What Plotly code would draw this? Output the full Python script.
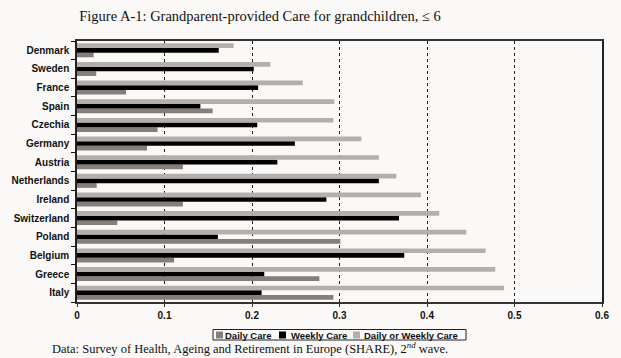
import plotly.graph_objects as go

countries = ["Denmark", "Sweden", "France", "Spain", "Czechia", "Germany", "Austria",
             "Netherlands", "Ireland", "Switzerland", "Poland", "Belgium", "Greece", "Italy"]
daily = [0.019, 0.022, 0.056, 0.155, 0.092, 0.080, 0.121, 0.0225, 0.121, 0.046, 0.301, 0.111, 0.277, 0.293]
weekly = [0.162, 0.202, 0.207, 0.141, 0.206, 0.249, 0.229, 0.345, 0.285, 0.368, 0.161, 0.374, 0.214, 0.211]
daily_or_weekly = [0.179, 0.221, 0.258, 0.294, 0.293, 0.325, 0.345, 0.365, 0.393, 0.414, 0.445, 0.467, 0.478, 0.488]
x_ticks = [0, 0.1, 0.2, 0.3, 0.4, 0.5, 0.6]
x_tick_labels = ["0", "0.1", "0.2", "0.3", "0.4", "0.5", "0.6"]
series_names = ["Daily Care", "Weekly Care", "Daily or Weekly Care"]
series_colors = ["#857e7a", "#000000", "#b5afab"]

W, H = 621, 358
ML, MR, MT, MB = 77, 19, 41, 56
plot_w = W - ML - MR
plot_h = H - MT - MB

def px_x(p):
    return (p - ML) / plot_w

def px_y(p):
    return (H - MB - p) / plot_h

# bottom-to-top order for the category axis
cats = countries[::-1]

fig = go.Figure()
for name, vals, col in zip(series_names, [daily, weekly, daily_or_weekly], series_colors):
    fig.add_trace(go.Bar(y=cats, x=vals[::-1], orientation="h", name=name,
                         marker=dict(color=col, line=dict(width=0)), showlegend=False))

bg = "#faf9f8"
font_sans = "Liberation Sans, Arial"
font_serif = "Liberation Serif, DejaVu Serif"

shapes = []
annotations = []
# custom compact legend (box + swatches + labels)
leg_x0, leg_x1, leg_y0, leg_y1 = 213, 466, 329.5, 340
shapes.append(dict(type="rect", xref="paper", yref="paper",
                   x0=px_x(leg_x0), x1=px_x(leg_x1), y0=px_y(leg_y1), y1=px_y(leg_y0),
                   line=dict(color="#222222", width=1), fillcolor=bg, layer="above"))
swatch_x = [216, 279, 353]
text_x = [222.5, 288.5, 362]
for name, col, sx, tx in zip(series_names, series_colors, swatch_x, text_x):
    shapes.append(dict(type="rect", xref="paper", yref="paper",
                       x0=px_x(sx), x1=px_x(sx + 7), y0=px_y(338.5), y1=px_y(331.5),
                       line=dict(width=0), fillcolor=col, layer="above"))
    annotations.append(dict(text="<b>" + name + "</b>", xref="paper", yref="paper",
                            x=px_x(tx), y=px_y(335), xanchor="left", yanchor="middle",
                            showarrow=False,
                            font=dict(family=font_sans, size=9.5, color="#111111")))

annotations.append(dict(text="Data: Survey of Health, Ageing and Retirement in Europe (SHARE), 2<sup><i>nd</i></sup> wave.",
                        xref="paper", yref="paper", x=px_x(250), y=px_y(348),
                        xanchor="center", yanchor="middle", showarrow=False,
                        font=dict(family=font_serif, size=12.5, color="#111111")))

fig.update_layout(
    width=W, height=H,
    margin=dict(l=ML, r=MR, t=MT, b=MB, autoexpand=False),
    paper_bgcolor=bg, plot_bgcolor=bg,
    barmode="group", bargap=0.25, bargroupgap=0,
    showlegend=False,
    title=dict(text="Figure A-1: Grandparent-provided Care for grandchildren, ≤ 6",
               x=260 / W, xanchor="center", y=1 - 16 / H, yanchor="middle",
               font=dict(family=font_serif, size=14.5, color="#111111")),
    xaxis=dict(range=[0, 0.6], tickvals=x_ticks, ticktext=x_tick_labels,
               showgrid=True, gridcolor="#222222", griddash="dot", gridwidth=1,
               showline=True, linecolor="#333333", linewidth=1.5, mirror=True,
               ticks="outside", ticklen=3, tickcolor="#333333",
               tickfont=dict(family=font_sans, size=10, color="#111111", weight="bold"),
               zeroline=False, fixedrange=True, automargin=False),
    yaxis=dict(range=[-0.5, 13.5], type="category", categoryorder="array", categoryarray=cats,
               showgrid=False, showline=True, linecolor="#222222", linewidth=1.5, mirror=True,
               ticks="outside", tickson="boundaries", ticklen=4, tickcolor="#111111",
               tickfont=dict(family=font_sans, size=10, color="#111111", weight="bold"),
               ticklabelstandoff=4, zeroline=False, fixedrange=True, automargin=False),
    shapes=shapes,
    annotations=annotations,
)

fig.write_html("out.html", config={"displayModeBar": False},
               post_script="document.body.style.margin='0px';document.body.style.background='#faf9f8';")
